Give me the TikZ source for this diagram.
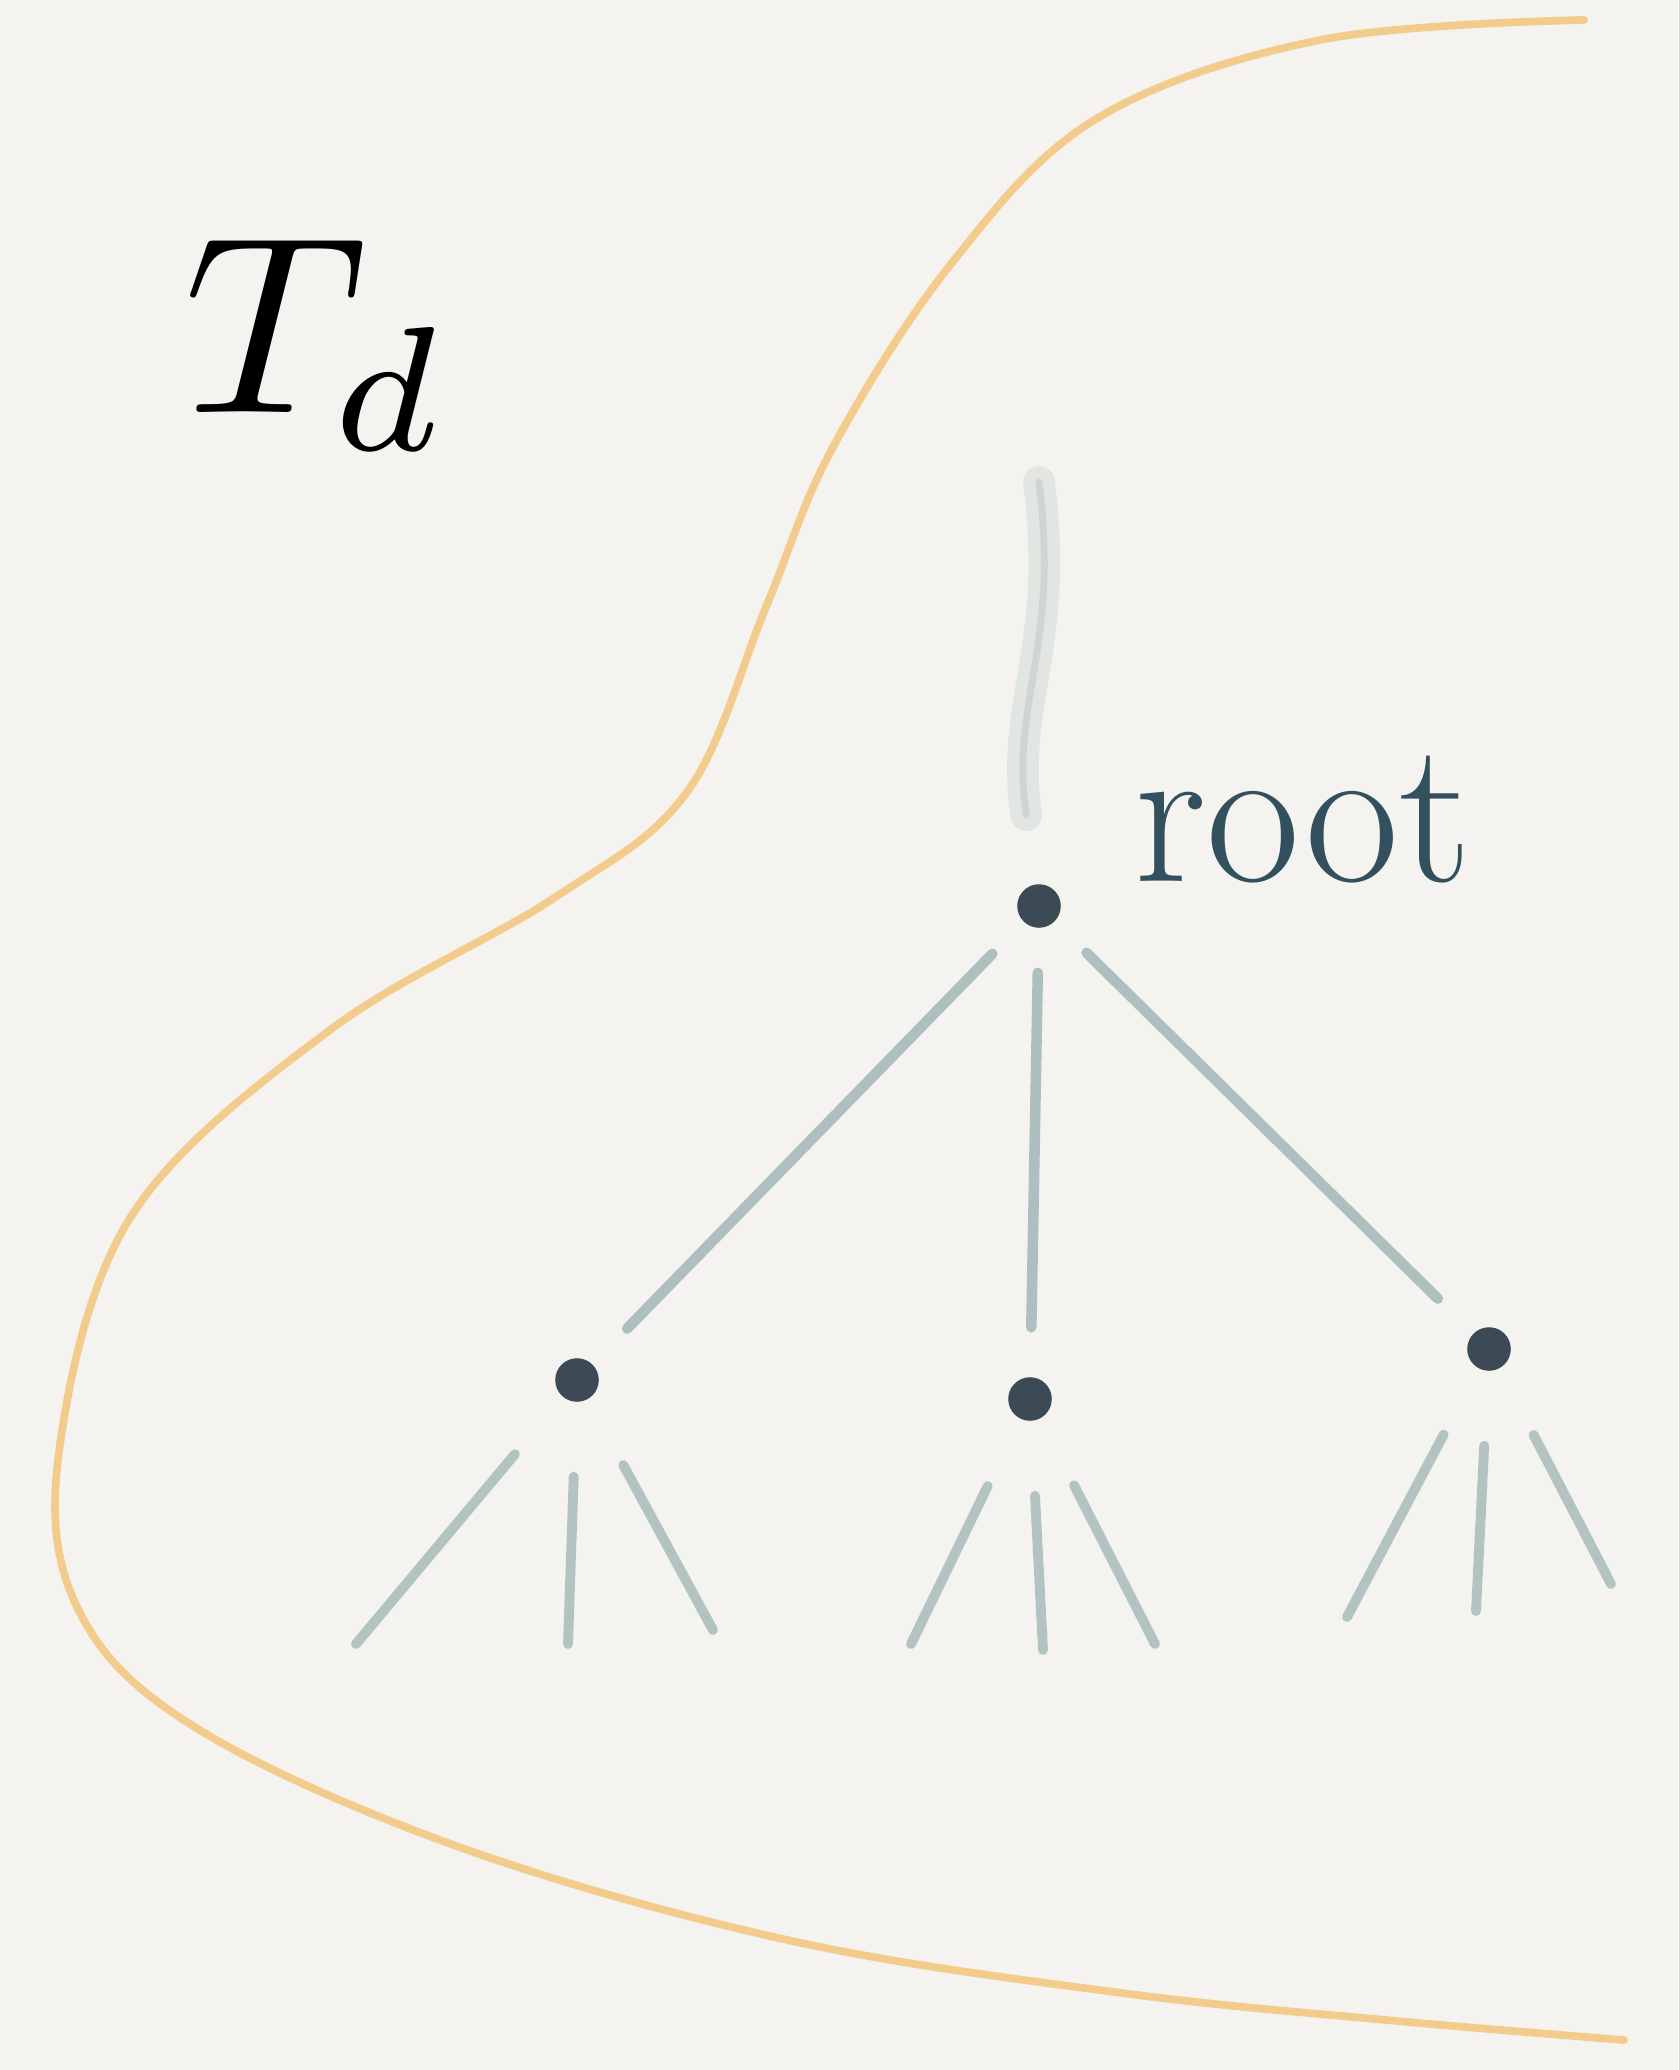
\documentclass[tikz,border=0pt]{standalone}
\usepackage{amsmath}
\usepackage{tikz}
\usetikzlibrary{positioning}

\definecolor{paper}{HTML}{F4F3EF}
\definecolor{inkdot}{HTML}{3B4A54}
\definecolor{inkroot}{HTML}{33505E}
\definecolor{twig}{HTML}{9DB3B3}
\definecolor{rim}{HTML}{F3C67C}

\begin{document}
\begin{tikzpicture}[x=0.01cm,y=-0.01cm,
	vertex/.style={circle,fill=inkdot,draw=inkdot,line width=1pt,inner sep=0pt,minimum size=0.4cm},
	branch/.style={twig,line width=3pt,line cap=round,opacity=0.8,shorten <=0.45cm,shorten >=0.5cm},
	leafedge/.style={twig,line width=2.8pt,line cap=round,opacity=0.75,shorten <=0.75cm}]
\fill[paper] (0,0) rectangle (1678,2070);
\useasboundingbox (0,0) rectangle (1678,2070);

% outline of the region
\draw[rim,line width=2.2pt,opacity=0.85,line cap=round] plot[smooth,tension=0.6] coordinates {
	(1584,20) (1320,40) (1096,119) (951,264) (832,449) (766,607) (687,792)
	(554,898) (330,1030) (132,1215) (59,1452) (79,1611) (198,1729) (462,1848)
	(792,1941) (1122,1993) (1386,2020) (1624,2040)};

\node [scale=7.2] (td) at (318,345) {$T_d$};

\node [vertex] (root) at (1039,906) {};
\node [vertex] (a) at (577,1380) {};
\node [vertex] (b) at (1030,1399) {};
\node [vertex] (c) at (1489,1349) {};
\node [text=inkroot,anchor=west] (lbl) at (1122,820) {\fontsize{58}{58}\selectfont root};

% faded stem above the root
\coordinate (top) at (1039,482);
\draw[twig,line width=9pt,opacity=0.2,line cap=round,shorten >=0.7cm] (top) .. controls (1060,650) and (1010,700) .. (root);
\draw[twig,line width=2pt,opacity=0.3,line cap=round,shorten >=0.7cm] (top) .. controls (1060,650) and (1010,700) .. (root);

\draw[branch] (root) -- (a);
\draw[branch] (root) -- (b);
\draw[branch] (root) -- (c);

\coordinate (a1) at (356,1644);
\coordinate (a2) at (568,1644);
\coordinate (a3) at (713,1630);
\coordinate (b1) at (911,1644);
\coordinate (b2) at (1043,1650);
\coordinate (b3) at (1155,1644);
\coordinate (c1) at (1347,1617);
\coordinate (c2) at (1476,1611);
\coordinate (c3) at (1611,1584);
\foreach \p in {a,b,c}
	\foreach \q in {1,2,3}
		\draw[leafedge] (\p) -- (\p\q);
\end{tikzpicture}
\end{document}
